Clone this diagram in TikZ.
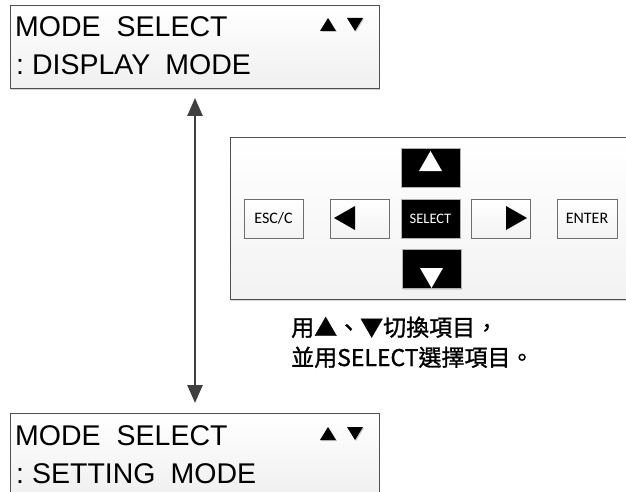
\documentclass[tikz,border=0pt]{standalone}
\usepackage{fontspec}
\setmainfont{Liberation Sans}
\newfontfamily\btnfont{Carlito}
\newfontfamily\cjkfont[FakeBold=1.2]{Noto Sans CJK TC}
\usetikzlibrary{arrows.meta,shadows}
\definecolor{bordergray}{HTML}{505050}
\definecolor{arrowgray}{HTML}{404040}
\definecolor{btnborder}{HTML}{6E6E6E}
\begin{document}
\begin{tikzpicture}[x=1pt,y=-1pt,
  lcd/.style={draw=bordergray, line width=1pt, top color=white, bottom color=gray!12,
    minimum width=369pt, minimum height=83pt, anchor=north west, inner sep=0pt,
    drop shadow={shadow xshift=0.5pt, shadow yshift=-1.5pt, opacity=0.35, fill=gray}},
  lcdtext/.style={anchor=base west, inner sep=0pt, font=\fontsize{28.5}{30}\selectfont},
  panel/.style={draw=bordergray, line width=1pt, top color=white, bottom color=gray!10,
    minimum width=420pt, minimum height=162pt, anchor=north west, inner sep=0pt,
    drop shadow={shadow xshift=0.5pt, shadow yshift=-1.5pt, opacity=0.3, fill=gray}},
  btn/.style={draw=btnborder, line width=0.8pt, top color=white, bottom color=gray!10,
    minimum width=59pt, minimum height=39pt, inner sep=0pt,
    font=\btnfont\fontsize{16}{18}\selectfont,
    drop shadow={shadow xshift=1pt, shadow yshift=-1pt, opacity=0.25, fill=gray}},
  blackbtn/.style={draw=gray!60, line width=0.8pt, fill=black, text=white,
    minimum width=59pt, minimum height=39pt, inner sep=0pt,
    font=\btnfont\fontsize{14.5}{16}\selectfont,
    drop shadow={shadow xshift=1pt, shadow yshift=-1pt, opacity=0.25, fill=gray}},
  cjk/.style={anchor=base west, inner sep=0pt, font=\cjkfont\fontsize{23}{25}\selectfont},
  biarrow/.style={draw=arrowgray, line width=2.8pt,
    {Triangle[width=15pt,length=18pt]}-{Triangle[width=15pt,length=18pt]}}
]
\useasboundingbox (0,0) rectangle (626,492);
\clip (0,0) rectangle (626,492);

% top LCD
\node[lcd] (lcdtop) at (10,5) {};
\node[lcdtext] (t1a) at (15,37) {MODE\hspace{16pt}SELECT};
\node[lcdtext] (t1b) at (16,75) {:\hspace{8pt}DISPLAY\hspace{15pt}MODE};
\fill[gray!45] (321,32) -- (337,32) -- (329,19) -- cycle;
\fill[black] (320,31) -- (336,31) -- (328,18) -- cycle;
\fill[gray!45] (348,19) -- (364,19) -- (356,32) -- cycle;
\fill[black] (347,18) -- (363,18) -- (355,31) -- cycle;

% bottom LCD
\node[lcd] (lcdbot) at (10,413) {};
\node[lcdtext] (t2a) at (15,445) {MODE\hspace{16pt}SELECT};
\node[lcdtext] (t2b) at (16,483) {:\hspace{8pt}SETTING\hspace{15pt}MODE};
\fill[gray!45] (321,441) -- (337,441) -- (329,428) -- cycle;
\fill[black] (320,440) -- (336,440) -- (328,427) -- cycle;
\fill[gray!45] (348,428) -- (364,428) -- (356,441) -- cycle;
\fill[black] (347,427) -- (363,427) -- (355,440) -- cycle;

% double arrow
\draw[biarrow, shorten <=9pt, shorten >=10pt] (lcdtop.south) -- (lcdbot.north);

% key panel
\node[panel] (panel) at (230,137) {};
\node[btn] (esc) at (273.5,218.5) {ESC/C};
\node[btn] (left) at (359.5,218.5) {};
\node[blackbtn] (select) at (430.5,218.5) {SELECT};
\node[btn] (right) at (500.5,218.5) {};
\node[btn, minimum width=60pt] (enter) at (587,218.5) {ENTER};
\node[blackbtn] (up) at (430.5,167.5) {};
\node[blackbtn] (down) at (431.5,269) {};

\fill[white] (419,171) -- (442,171) -- (430.5,151) -- cycle;
\fill[white] (420,268) -- (443,268) -- (431.5,288) -- cycle;
\fill[black] (355,206) -- (355,230) -- (334,218) -- cycle;
\fill[black] (506,206) -- (506,230) -- (527,218) -- cycle;

% note
\node[cjk] (note1) at (291,336) {用▲、▼切換項目，};
\node[cjk] (note2) at (291,366) {並用SELECT選擇項目。};
\end{tikzpicture}
\end{document}
